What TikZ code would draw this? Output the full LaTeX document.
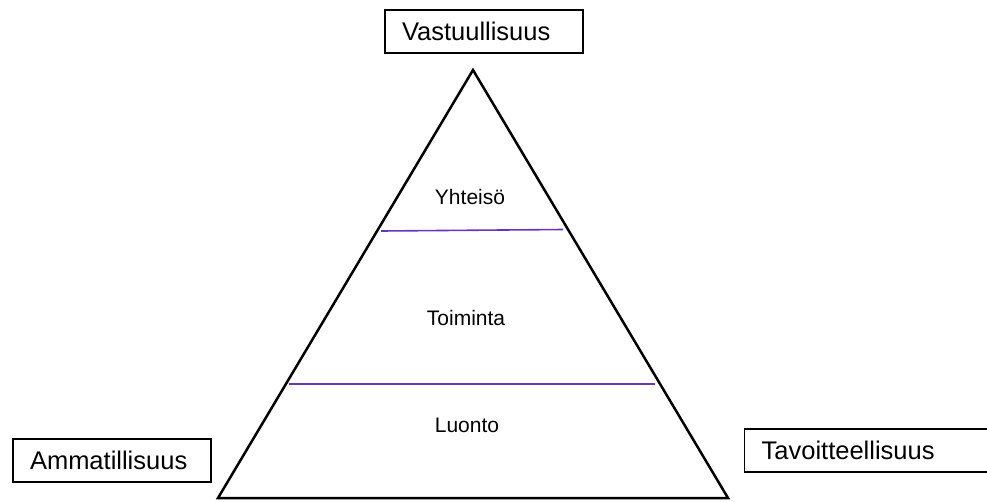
\documentclass[tikz,border=0pt]{standalone}
\usepackage{fontspec}
\setmainfont{Liberation Sans}
\definecolor{layerline}{RGB}{104,52,184}
\begin{document}
\begin{tikzpicture}[x=1pt,y=-1pt,
    labelbox/.style={draw,line width=1.3pt,text width=164pt,align=left,inner xsep=17pt,
      minimum height=43pt,font=\fontsize{25.5}{30}\selectfont},
    layertext/.style={font=\fontsize{21}{25}\selectfont}]
  % --- Parameters ---
  \def\apexx{473}     % top corner of the pyramid
  \def\apexy{70}
  \def\basey{498}     % bottom edge
  \def\halfw{255}     % half of the base
  \useasboundingbox (0,0) rectangle (987,501);
  % --- Pyramid ---
  \draw[line width=2.5pt,line join=miter] ({\apexx-\halfw},\basey) -- (\apexx,\apexy)
    -- ({\apexx+\halfw},\basey) -- cycle;
  % layer borders
  \draw[layerline,line width=1.6pt] (381,231) -- (563,229.5);
  \draw[layerline,line width=1.6pt] (289,384) -- (655,384);
  % layer names
  \node[layertext] (yhteiso) at (470,197) {Yhteisö};
  \node[layertext] (toiminta) at (466,318) {Toiminta};
  \node[layertext] (luonto) at (467,425) {Luonto};
  % --- Corner labels ---
  \node[labelbox] (vastuu) at (484,31.5) {Vastuullisuus};
  \node[labelbox] (ammat) at (112,460.5) {Ammatillisuus};
  \node[labelbox,text width=240pt,anchor=west] (tavoite) at (744,450.5) {Tavoitteellisuus};
\end{tikzpicture}
\end{document}
